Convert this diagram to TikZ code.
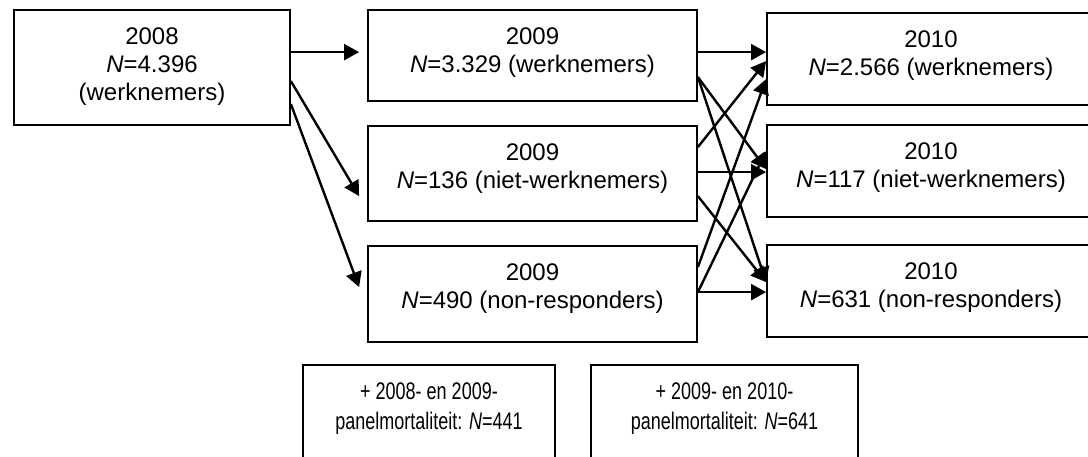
\documentclass[tikz,border=0pt]{standalone}
\usepackage{fontspec}
\setmainfont{Liberation Sans}
\newfontfamily\narrowfont{Liberation Sans}[FakeStretch=0.75]
\usetikzlibrary{arrows.meta,calc,fit}
\begin{document}
\begin{tikzpicture}[x=0.5pt,y=-0.5pt,
  box/.style={draw=black,line width=0.9pt,inner sep=0pt,rectangle},
  txt/.style={anchor=north,inner sep=0pt,align=center,font=\fontsize{12}{14}\selectfont},
  txtb/.style={txt,font=\narrowfont\fontsize{12}{15}\selectfont},
  arr/.style={line width=1.2pt,-{Triangle[length=7.5pt,width=8pt]}}]
\useasboundingbox (0,0) rectangle (1088,456);
\clip (0,0) rectangle (1088,456);
% boxes
\node[box,fit={(14,10) (290,125)}] (a08) {};
\node[box,fit={(368,10) (697,101)}] (b1) {};
\node[box,fit={(368,126) (697,221)}] (b2) {};
\node[box,fit={(368,246) (697,342)}] (b3) {};
\node[box,fit={(767,13) (1095,105)}] (c1) {};
\node[box,fit={(767,125) (1095,217)}] (c2) {};
\node[box,fit={(767,245) (1095,337)}] (c3) {};
\node[box,fit={(303,365) (555,480)}] (d1) {};
\node[box,fit={(591,365) (858,480)}] (d2) {};
% texts
\node[txt] (t08) at (152,24) {\strut 2008\\\textit{N}=4.396\\(werknemers)};
\node[txt] (tb1) at (532.5,24) {\strut 2009\\\textit{N}=3.329 (werknemers)};
\node[txt] (tb2) at (532.5,140) {\strut 2009\\\textit{N}=136 (niet-werknemers)};
\node[txt] (tb3) at (532.5,260) {\strut 2009\\\textit{N}=490 (non-responders)};
\node[txt] (tc1) at (931,27) {\strut 2010\\\textit{N}=2.566 (werknemers)};
\node[txt] (tc2) at (931,139) {\strut 2010\\\textit{N}=117 (niet-werknemers)};
\node[txt] (tc3) at (931,259) {\strut 2010\\\textit{N}=631 (non-responders)};
\node[txtb] (td1) at (429,378) {\strut + 2008- en 2009-\\panelmortaliteit: \textit{N}=441};
\node[txtb] (td2) at (724.5,378) {\strut + 2009- en 2010-\\panelmortaliteit: \textit{N}=641};
% arrows 2008 -> 2009
\draw[arr] ($(a08.north east)+(0,43)$) -- ($(b1.north west)+(-8,43)$);
\draw[arr] ($(a08.north east)+(0,72)$) -- ($(b2.north west)+(-8,71)$);
\draw[arr] ($(a08.north east)+(0,95)$) -- ($(b3.north west)+(-8,42)$);
% arrows 2009 -> 2010
\draw[arr] ($(b1.north east)+(0,43)$) -- ($(c1.north west)+(0,40)$);
\draw[arr] ($(b1.north east)+(0,68)$) -- ($(c2.north west)+(0,45)$);
\draw[arr] ($(b1.north east)+(0,68)$) -- ($(c3.north west)+(0,38)$);
\draw[arr] ($(b2.north east)+(0,22)$) -- ($(c1.north west)+(0,49)$);
\draw[arr] ($(b2.north east)+(0,47)$) -- ($(c2.north west)+(0,48)$);
\draw[arr] ($(b2.north east)+(0,71)$) -- ($(c3.north west)+(0,38)$);
\draw[arr] ($(b3.north east)+(0,22)$) -- ($(c1.north west)+(0,67)$);
\draw[arr] ($(b3.north east)+(0,47)$) -- ($(c2.north west)+(0,27)$);
\draw[arr] ($(b3.north east)+(0,47)$) -- ($(c3.north west)+(0,48)$);
\end{tikzpicture}
\end{document}
